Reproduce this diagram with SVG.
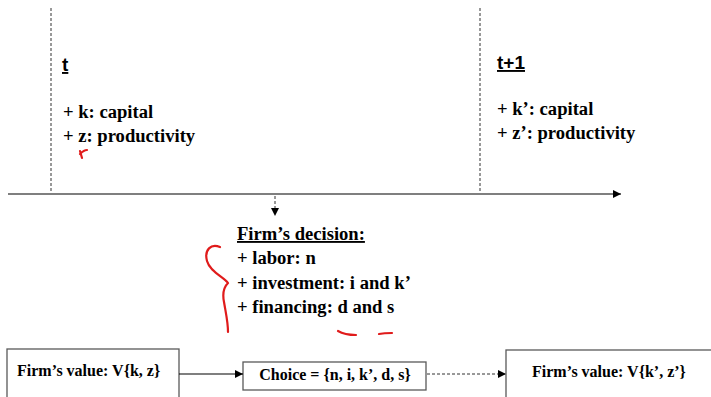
<svg xmlns="http://www.w3.org/2000/svg" width="711" height="397" viewBox="0 0 711 397">
  <defs>
    <style>
      text { fill: #000; font-weight: bold; }
      .serif { font-family: "Liberation Serif", "Times New Roman", serif; }
      .sans { font-family: "Liberation Sans", Arial, sans-serif; font-size: 19px; }
      .big { font-size: 18.6px; }
      .small { font-size: 16px; }
      .box { fill: #fff; stroke: #595959; stroke-width: 1.3; }
      .line { stroke: #000; stroke-width: 1.2; fill: none; }
      .dash { stroke: #333; stroke-width: 1; stroke-dasharray: 3 2; fill: none; }
      .ink { stroke: #e01b1b; stroke-width: 2.2; fill: none; stroke-linecap: round; stroke-linejoin: round; }
    </style>
    <marker id="head" viewBox="0 0 10 10" refX="10" refY="5" markerWidth="8" markerHeight="8" orient="auto" markerUnits="userSpaceOnUse">
      <path d="M0,0 L10,5 L0,10 z" fill="#000"/>
    </marker>
  </defs>
  <rect width="711" height="397" fill="#fff"/>

  <!-- timeline -->
  <g id="timeline">
    <line class="dash" x1="51" y1="8" x2="51" y2="192"/>
    <line class="dash" x1="480" y1="8" x2="480" y2="192"/>
    <line class="line" x1="8" y1="194" x2="621" y2="194" marker-end="url(#head)"/>
  </g>

  <!-- period t -->
  <g id="period-t">
    <text class="sans" x="62" y="71" text-decoration="underline">t</text>
    <text class="serif big" x="63" y="118">+ k: capital</text>
    <text class="serif big" x="63" y="142">+ z: productivity</text>
  </g>

  <!-- period t+1 -->
  <g id="period-t1">
    <text class="sans" x="497" y="69" text-decoration="underline">t+1</text>
    <text class="serif big" x="497" y="115">+ k’: capital</text>
    <text class="serif big" x="497" y="139">+ z’: productivity</text>
  </g>

  <!-- decision list -->
  <g id="decision">
    <text class="serif big" x="237" y="240" text-decoration="underline">Firm’s decision:</text>
    <text class="serif big" x="237" y="264">+ labor: n</text>
    <text class="serif big" x="237" y="289">+ investment: i and k’</text>
    <text class="serif big" x="237" y="313">+ financing: d and s</text>
  </g>

  <!-- value boxes -->
  <g id="value-now">
    <rect class="box" x="7" y="349" width="172" height="60"/>
    <text class="serif small" x="17" y="376">Firm’s value: V{k, z}</text>
  </g>
  <g id="choice">
    <rect class="box" x="243" y="362" width="183" height="28"/>
    <text class="serif small" x="335" y="380" text-anchor="middle">Choice = {n, i, k’, d, s}</text>
  </g>
  <g id="value-next">
    <rect class="box" x="506" y="350" width="220" height="60"/>
    <text class="serif small" x="532" y="377">Firm’s value: V{k’, z’}</text>
  </g>

  <!-- connectors -->
  <g id="connectors">
    <line class="dash" x1="275" y1="196" x2="275" y2="216" marker-end="url(#head)"/>
    <line class="line" x1="179" y1="374" x2="243" y2="374" marker-end="url(#head)"/>
    <line class="dash" x1="427" y1="374" x2="506" y2="374" marker-end="url(#head)"/>
  </g>

  <!-- handwritten marks -->
  <g id="annotations">
    <path class="ink" d="M80,151 L82,158 M80,154 C83,151 85,150 87,150"/>
    <path class="ink" d="M220,247 C211,243 204,250 207,261 C210,272 224,277 228,283 C224,287 222,292 224,302 C226,314 228,322 228,332"/>
    <path class="ink" d="M338,331 C343,334 349,335 356,335"/>
    <path class="ink" d="M379,334 C384,333 388,333 392,333"/>
  </g>
</svg>
